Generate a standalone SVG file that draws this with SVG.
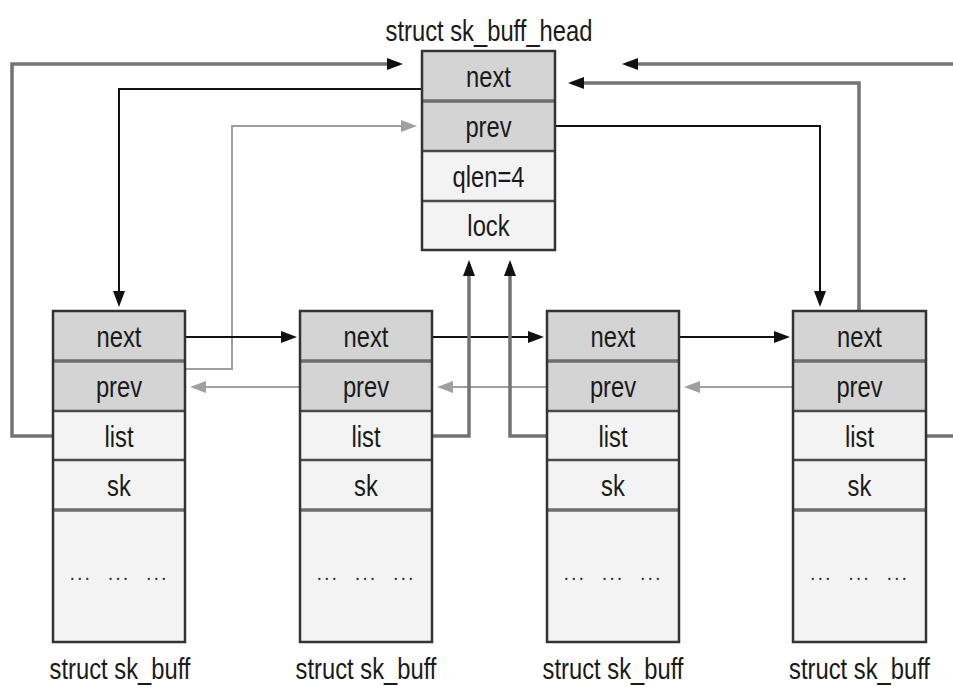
<svg xmlns="http://www.w3.org/2000/svg" width="953" height="687" viewBox="0 0 953 687">
<style>
.t{font-family:"Liberation Sans",Arial,sans-serif;font-size:29px;fill:#1a1a1a;text-anchor:middle}
.d{font-family:"Liberation Sans",Arial,sans-serif;font-size:20px;fill:#333;text-anchor:middle;letter-spacing:2px;word-spacing:8px}
.dk{fill:#d4d4d4}
.lt{fill:#f3f3f3}
.sep{stroke:#4a4a4a;stroke-width:2.5}
.sepg{stroke:#6e6e6e;stroke-width:3.5}
.frame{fill:none;stroke:#333;stroke-width:2.5}
.blk{fill:none;stroke:#111;stroke-width:2}
.gry{fill:none;stroke:#737373;stroke-width:3.5}
.lgr{fill:none;stroke:#a0a0a0;stroke-width:2}
</style>
<defs>
<marker id="ab" markerUnits="userSpaceOnUse" markerWidth="18" markerHeight="14" refX="12" refY="6" orient="auto"><path d="M0,0 L16,6 L0,12 z" fill="#111"/></marker>
<marker id="ag" markerUnits="userSpaceOnUse" markerWidth="18" markerHeight="14" refX="12" refY="6" orient="auto"><path d="M0,0 L16,6 L0,12 z" fill="#a0a0a0"/></marker>
</defs>
<rect width="953" height="687" fill="#ffffff"/>

<g id="connectors">
<path class="gry" d="M53,436 H12 V64 H399" marker-end="url(#ab)"/>
<path class="blk" d="M422,89 H119 V303" marker-end="url(#ab)"/>
<path class="lgr" d="M185,369 H232 V126 H413" marker-end="url(#ag)"/>
<path class="blk" d="M185,337 H293" marker-end="url(#ab)"/>
<path class="blk" d="M432,337 H540" marker-end="url(#ab)"/>
<path class="blk" d="M679,337 H786" marker-end="url(#ab)"/>
<path class="lgr" d="M300,387 H194" marker-end="url(#ag)"/>
<path class="lgr" d="M547,387 H441" marker-end="url(#ag)"/>
<path class="lgr" d="M793,387 H688" marker-end="url(#ag)"/>
<path class="gry" d="M432,436 H469 V264" marker-end="url(#ab)"/>
<path class="gry" d="M547,436 H510 V264" marker-end="url(#ab)"/>
<path class="blk" d="M555,126 H820 V303" marker-end="url(#ab)"/>
<path class="gry" d="M859,311 V83 H572" marker-end="url(#ab)"/>
<path class="gry" d="M953,64 H626" marker-end="url(#ab)"/>
<path class="gry" d="M926,436 H953"/>
</g>

<g id="sk_buff_head">
<text class="t" transform="translate(489,41) scale(0.82,1)">struct sk_buff_head</text>
<rect class="dk" x="422" y="51" width="133" height="100"/>
<rect class="lt" x="422" y="151" width="133" height="99"/>
<line class="sepg" x1="422" y1="101" x2="555" y2="101"/>
<line class="sep" x1="422" y1="151" x2="555" y2="151"/>
<line class="sep" x1="422" y1="201" x2="555" y2="201"/>
<rect class="frame" x="422" y="51" width="133" height="199"/>
<text class="t" transform="translate(488.5,87) scale(0.82,1)">next</text>
<text class="t" transform="translate(488.5,137) scale(0.82,1)">prev</text>
<text class="t" transform="translate(488.5,187) scale(0.82,1)">qlen=4</text>
<text class="t" transform="translate(488.5,236) scale(0.82,1)">lock</text>
</g>

<g id="sk_buff_1">
<rect class="dk" x="53" y="311" width="132" height="100"/>
<rect class="lt" x="53" y="411" width="132" height="231"/>
<line class="sepg" x1="53" y1="361" x2="185" y2="361"/>
<line class="sep" x1="53" y1="411" x2="185" y2="411"/>
<line class="sep" x1="53" y1="460" x2="185" y2="460"/>
<line class="sepg" x1="53" y1="510" x2="185" y2="510"/>
<rect class="frame" x="53" y="311" width="132" height="331"/>
<text class="t" transform="translate(119,347) scale(0.82,1)">next</text>
<text class="t" transform="translate(119,397) scale(0.82,1)">prev</text>
<text class="t" transform="translate(119,447) scale(0.82,1)">list</text>
<text class="t" transform="translate(119,496) scale(0.82,1)">sk</text>
<text class="d" x="119" y="580">... ... ...</text>
<text class="t" transform="translate(120,679) scale(0.82,1)">struct sk_buff</text>
</g>

<g id="sk_buff_2">
<rect class="dk" x="300" y="311" width="132" height="100"/>
<rect class="lt" x="300" y="411" width="132" height="231"/>
<line class="sepg" x1="300" y1="361" x2="432" y2="361"/>
<line class="sep" x1="300" y1="411" x2="432" y2="411"/>
<line class="sep" x1="300" y1="460" x2="432" y2="460"/>
<line class="sepg" x1="300" y1="510" x2="432" y2="510"/>
<rect class="frame" x="300" y="311" width="132" height="331"/>
<text class="t" transform="translate(366,347) scale(0.82,1)">next</text>
<text class="t" transform="translate(366,397) scale(0.82,1)">prev</text>
<text class="t" transform="translate(366,447) scale(0.82,1)">list</text>
<text class="t" transform="translate(366,496) scale(0.82,1)">sk</text>
<text class="d" x="366" y="580">... ... ...</text>
<text class="t" transform="translate(366,679) scale(0.82,1)">struct sk_buff</text>
</g>

<g id="sk_buff_3">
<rect class="dk" x="547" y="311" width="132" height="100"/>
<rect class="lt" x="547" y="411" width="132" height="231"/>
<line class="sepg" x1="547" y1="361" x2="679" y2="361"/>
<line class="sep" x1="547" y1="411" x2="679" y2="411"/>
<line class="sep" x1="547" y1="460" x2="679" y2="460"/>
<line class="sepg" x1="547" y1="510" x2="679" y2="510"/>
<rect class="frame" x="547" y="311" width="132" height="331"/>
<text class="t" transform="translate(613,347) scale(0.82,1)">next</text>
<text class="t" transform="translate(613,397) scale(0.82,1)">prev</text>
<text class="t" transform="translate(613,447) scale(0.82,1)">list</text>
<text class="t" transform="translate(613,496) scale(0.82,1)">sk</text>
<text class="d" x="613" y="580">... ... ...</text>
<text class="t" transform="translate(613,679) scale(0.82,1)">struct sk_buff</text>
</g>

<g id="sk_buff_4">
<rect class="dk" x="793" y="311" width="133" height="100"/>
<rect class="lt" x="793" y="411" width="133" height="231"/>
<line class="sepg" x1="793" y1="361" x2="926" y2="361"/>
<line class="sep" x1="793" y1="411" x2="926" y2="411"/>
<line class="sep" x1="793" y1="460" x2="926" y2="460"/>
<line class="sepg" x1="793" y1="510" x2="926" y2="510"/>
<rect class="frame" x="793" y="311" width="133" height="331"/>
<text class="t" transform="translate(859.5,347) scale(0.82,1)">next</text>
<text class="t" transform="translate(859.5,397) scale(0.82,1)">prev</text>
<text class="t" transform="translate(859.5,447) scale(0.82,1)">list</text>
<text class="t" transform="translate(859.5,496) scale(0.82,1)">sk</text>
<text class="d" x="859.5" y="580">... ... ...</text>
<text class="t" transform="translate(859.5,679) scale(0.82,1)">struct sk_buff</text>
</g>
</svg>
